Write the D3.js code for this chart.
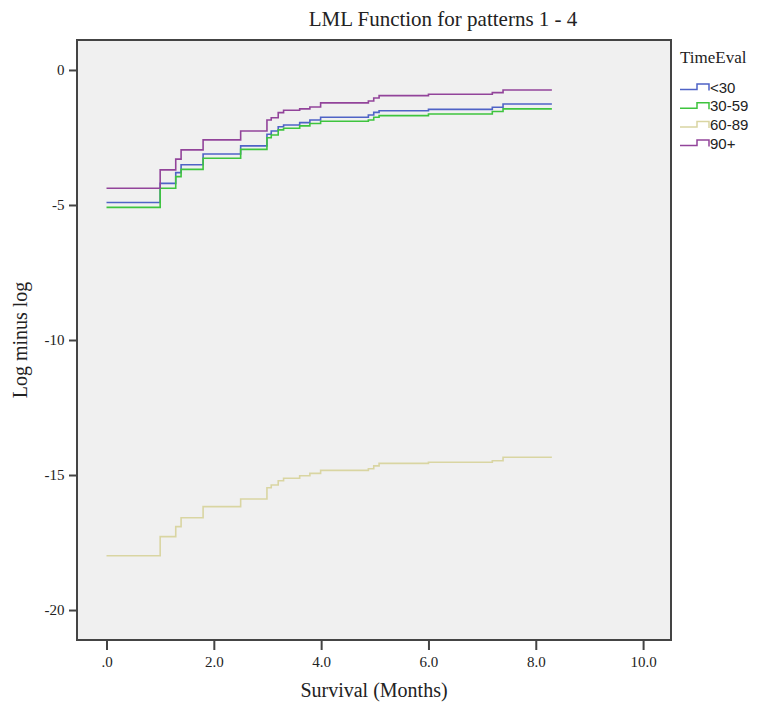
<!DOCTYPE html>
<html><head><meta charset="utf-8">
<script src="https://cdn.jsdelivr.net/npm/d3@7"></script>
<style>body{margin:0;background:#fff;}svg{display:block;}</style>
</head><body>
<svg id="chart" width="759" height="704"></svg>
<script>
const times = [0, 1.00, 1.29, 1.39, 1.80, 2.50, 2.99, 3.07, 3.20, 3.30, 3.60, 3.79, 3.99, 4.88, 4.98, 5.08, 6.00, 7.19, 7.39, 8.30];
const seriesNames = ["<30", "30-59", "60-89", "90+"];
const lt30   = [-4.91, -4.20, -3.80, -3.51, -3.11, -2.81, -2.38, -2.26, -2.10, -2.04, -1.95, -1.85, -1.75, -1.67, -1.57, -1.51, -1.46, -1.38, -1.26, -1.26];
const v30_59 = [-5.09, -4.38, -3.95, -3.68, -3.27, -2.94, -2.51, -2.41, -2.22, -2.16, -2.07, -1.98, -1.90, -1.85, -1.75, -1.69, -1.63, -1.54, -1.44, -1.44];
const v60_89 = [-17.99, -17.28, -16.91, -16.58, -16.17, -15.89, -15.47, -15.37, -15.21, -15.12, -15.03, -14.94, -14.83, -14.77, -14.66, -14.57, -14.53, -14.47, -14.34, -14.34];
const v90p   = [-4.38, -3.70, -3.30, -2.96, -2.59, -2.26, -1.85, -1.77, -1.58, -1.49, -1.44, -1.37, -1.22, -1.15, -1.04, -0.95, -0.90, -0.84, -0.74, -0.74];
const xTicks = [0, 2, 4, 6, 8, 10];
const yTicks = [0, -5, -10, -15, -20];
const colors = ["#4f63c6", "#3ec43e", "#d9d5a2", "#92449a"];

const values = [lt30, v30_59, v60_89, v90p];
const svg = d3.select("#chart");
const L = 77, R = 671, T = 40, B = 640;
const x = d3.scaleLinear().domain([-0.55, 10.52]).range([L, R]);
const y = d3.scaleLinear().domain([1.11, -21.11]).range([T, B]);
const serif = "Liberation Serif, Times New Roman, serif";

svg.append("rect").attr("x", L).attr("y", T).attr("width", R - L).attr("height", B - T)
  .attr("fill", "#f0f0f0");

const line = d3.line().x(d => x(d[0])).y(d => y(d[1])).curve(d3.curveStepAfter);
values.forEach((vals, i) => {
  const pts = times.map((t, j) => [t, vals[j]]);
  svg.append("path").datum(pts).attr("d", line)
    .attr("fill", "none").attr("stroke", colors[i]).attr("stroke-width", 1.6);
});

svg.append("rect").attr("x", L).attr("y", T).attr("width", R - L).attr("height", B - T)
  .attr("fill", "none").attr("stroke", "#444").attr("stroke-width", 2);

const xAxis = d3.axisBottom(x).tickValues(xTicks).tickSize(10).tickSizeOuter(0)
  .tickFormat(d => d === 0 ? ".0" : d.toFixed(1));
const gx = svg.append("g").attr("transform", `translate(0,${B})`).call(xAxis);
gx.select(".domain").remove();
gx.selectAll(".tick line").attr("stroke", "#444").attr("stroke-width", 2);
gx.selectAll(".tick text").attr("font-family", serif).attr("font-size", 15)
  .attr("fill", "#222").attr("dy", "0.95em");

const yAxis = d3.axisLeft(y).tickValues(yTicks).tickSize(8).tickSizeOuter(0)
  .tickFormat(d => d === 0 ? "0" : "-" + Math.abs(d));
const gy = svg.append("g").attr("transform", `translate(${L},0)`).call(yAxis);
gy.select(".domain").remove();
gy.selectAll(".tick line").attr("stroke", "#444").attr("stroke-width", 2);
gy.selectAll(".tick text").attr("font-family", serif).attr("font-size", 15)
  .attr("fill", "#222").attr("dx", "-0.1em");

svg.append("text").attr("x", 443).attr("y", 26).attr("text-anchor", "middle")
  .attr("font-family", serif).attr("font-size", 21).attr("fill", "#222")
  .text("LML Function for patterns 1 - 4");
svg.append("text").attr("x", 374).attr("y", 697).attr("text-anchor", "middle")
  .attr("font-family", serif).attr("font-size", 20).attr("fill", "#222")
  .text("Survival (Months)");
svg.append("text").attr("transform", "translate(27,340) rotate(-90)").attr("text-anchor", "middle")
  .attr("font-family", serif).attr("font-size", 20).attr("fill", "#222")
  .text("Log minus log");

const lg = svg.append("g");
lg.append("text").attr("x", 680).attr("y", 63).attr("font-family", serif)
  .attr("font-size", 17).attr("fill", "#222").text("TimeEval");
seriesNames.forEach((n, i) => {
  const by = 89.5 + i * 18.7;
  lg.append("path").attr("d", `M680,${by}H697V${by - 5.5}H709V${by + 1}`)
    .attr("fill", "none").attr("stroke", colors[i]).attr("stroke-width", 1.5);
  lg.append("text").attr("x", 710).attr("y", by + 3).attr("font-family", "Liberation Sans, sans-serif")
    .attr("font-size", 15).attr("fill", "#222").text(n);
});
</script>
</body></html>
